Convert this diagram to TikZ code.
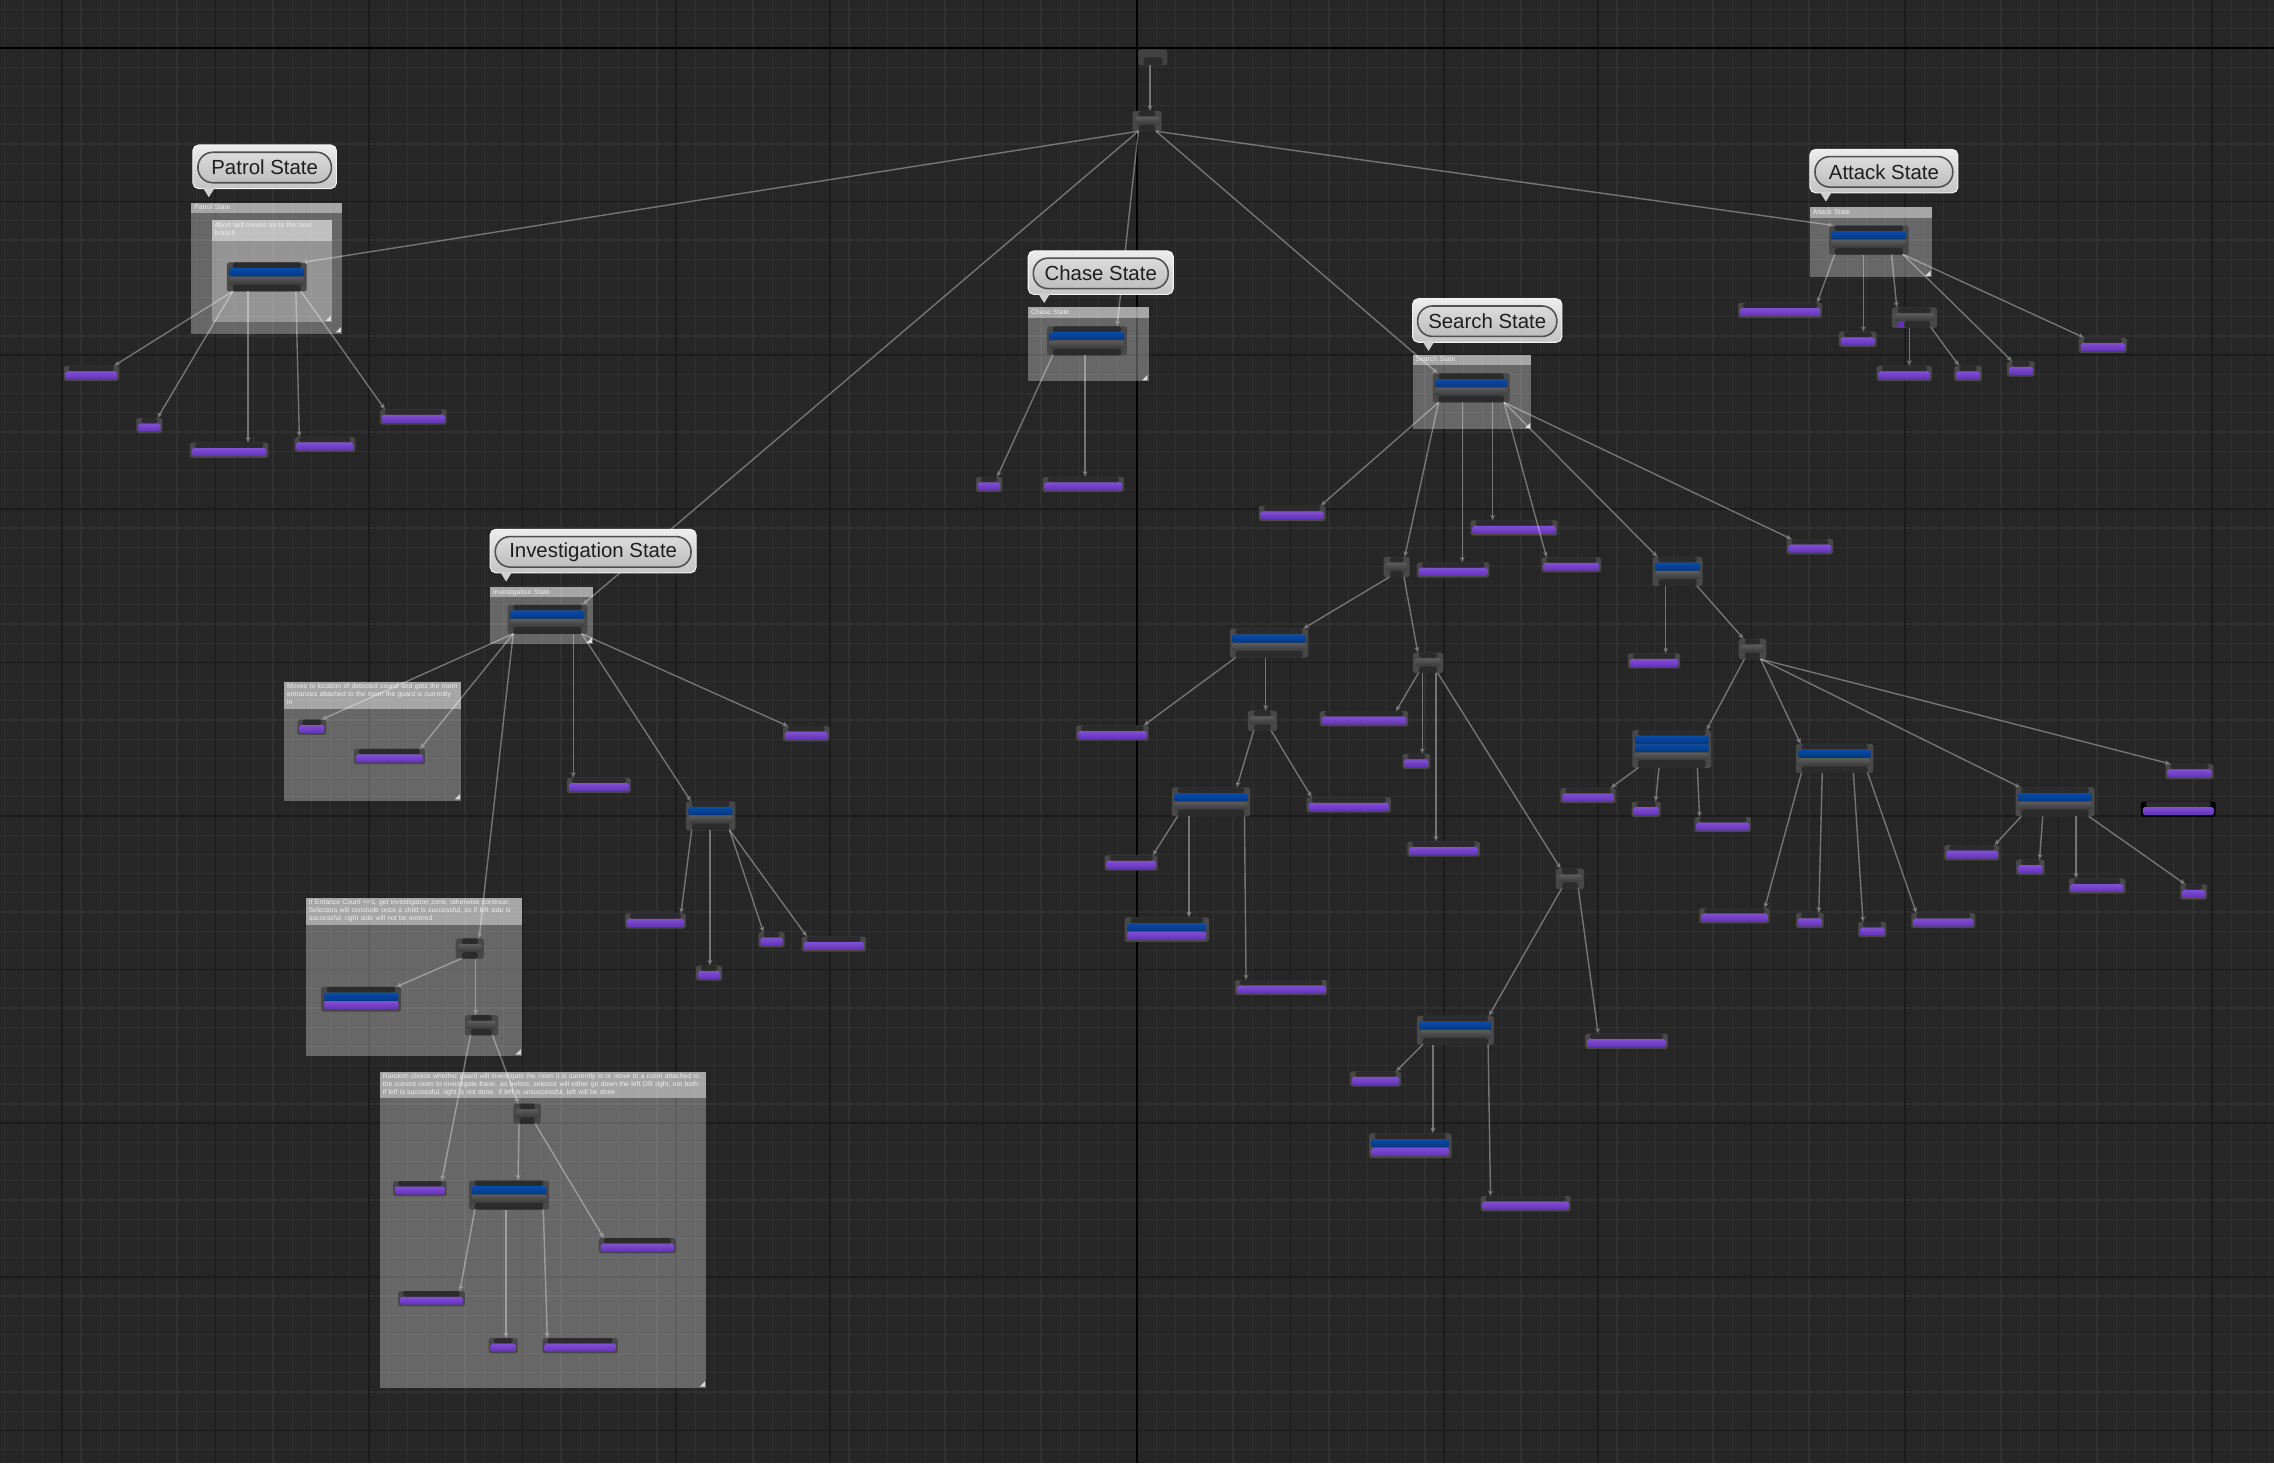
\documentclass[tikz,border=0pt]{standalone}
\usepackage{fontspec}
\setmainfont{Liberation Sans}
\usetikzlibrary{calc,arrows.meta}

\definecolor{gridbg}{HTML}{262626}
\definecolor{gridminor}{HTML}{303030}
\definecolor{gridmajor}{HTML}{1B1B1B}
\definecolor{btframe}{HTML}{484848}
\definecolor{btroot}{HTML}{424242}
\definecolor{btpin}{HTML}{2B2B2B}
\definecolor{btpurple}{HTML}{6430B8}
\definecolor{btpurplehi}{HTML}{8050D4}
\definecolor{btblue}{HTML}{01367F}
\definecolor{btbluehi}{HTML}{0A4CA8}
\definecolor{btgrayhi}{HTML}{5C5C5C}
\definecolor{btgraylo}{HTML}{393939}
\definecolor{bubtop}{HTML}{EDEDED}
\definecolor{bubbot}{HTML}{C4C4C4}
\definecolor{pilltop}{HTML}{DCDCDC}
\definecolor{pillbot}{HTML}{BEBEBE}
\definecolor{pillline}{HTML}{505050}
\definecolor{labeltext}{HTML}{1E1E1E}
\definecolor{cmtfont}{HTML}{EEEEEE}
\definecolor{cmtgrip}{HTML}{DADADA}

\newcommand{\pxl}{0.014503cm}
% one coloured band inside a tree node, inset #1, from #2 to #3 below the top
\newcommand{\btbar}[4]{\fill[#4] ($(path picture bounding box.north west)+(#1,#2)$) rectangle ($(path picture bounding box.north east)+(-#1,#3)$);}
\newcommand{\commentbox}[7]{%
  \fill[cmtbody] (#2,#3) rectangle (#4,#5);
  \fill[cmthead] (#2,#3) rectangle (#4,#3+#6);
  \fill[cmtgrip] (#4-0.8,#5-0.8) -- (#4-0.8,#5-4.5) -- (#4-4.5,#5-0.8) -- cycle;
  \pgfmathsetlengthmacro{\cmtwidth}{(#4-#2-4)*\pxl}%
  \node[cmttext, text width=\cmtwidth] (#1) at (#2+1.5,#3+0.7) {#7};
}
\newcommand{\statelabel}[5]{%
  \node[bubble, minimum width={(#4-#2)*\pxl}] (#1bub) at ({(#2+#4)/2},#3+15) {};
  \fill[bubbot!80!white] (#2+7,#3+29.6) -- (#2+15,#3+29.6) -- (#2+11,#3+36) -- cycle;
  \node[pill, minimum width={(#4-#2-7)*\pxl}] (#1) at ({(#2+#4)/2},#3+15.5) {#5};
}

\begin{document}
\begin{tikzpicture}[x=0.014503cm, y=-0.014503cm,
  bt/.style={rectangle, inner sep=0pt, outer sep=0pt, fill=btframe, rounded corners=0.5pt},
  task/.style={bt, minimum width=#1*\pxl, minimum height=10.5*\pxl, path picture={
    \btbar{3.5}{0}{3.8}{btpin}
    \btbar{1.3}{3.8}{9.3}{top color=btpurplehi, bottom color=btpurple}}},
  sel/.style={bt, minimum width=#1*\pxl, minimum height=14*\pxl, path picture={
    \btbar{4.3}{0}{4}{btpin}
    \btbar{1.5}{4}{9.5}{top color=btgrayhi, bottom color=btgraylo}
    \btbar{4.3}{9.5}{14}{btpin}}},
  seldeco/.style={bt, minimum width=#1*\pxl, minimum height=14*\pxl, path picture={
    \btbar{4.3}{0}{4}{btpin}
    \btbar{1.5}{4}{9.5}{top color=btgrayhi, bottom color=btgraylo}
    \fill[btpurple] ($(path picture bounding box.north west)+(4,9.5)$) rectangle ($(path picture bounding box.north west)+(8.6,14)$);
    \fill[btpin] ($(path picture bounding box.north west)+(8.6,9.5)$) rectangle ($(path picture bounding box.north east)+(-4.6,14)$);}},
  comp/.style={bt, minimum width=#1*\pxl, minimum height=20*\pxl, path picture={
    \btbar{4}{0}{3.9}{btpin}
    \btbar{1.8}{3.9}{9.7}{top color=btbluehi, bottom color=btblue}
    \btbar{1.8}{9.7}{15.4}{top color=btgrayhi, bottom color=btgraylo}
    \btbar{4}{15.4}{20}{btpin}}},
  comptwo/.style={bt, minimum width=#1*\pxl, minimum height=26*\pxl, path picture={
    \btbar{4}{0}{3.9}{btpin}
    \btbar{1.8}{3.9}{9.6}{top color=btbluehi, bottom color=btblue}
    \btbar{1.8}{9.8}{15.3}{top color=btbluehi, bottom color=btblue}
    \btbar{1.8}{15.5}{20.6}{top color=btgrayhi, bottom color=btgraylo}
    \btbar{4}{20.6}{26}{btpin}}},
  compdeco/.style={bt, minimum width=#1*\pxl, minimum height=17*\pxl, path picture={
    \btbar{4}{0}{4}{btpin}
    \btbar{1.8}{4}{9.8}{top color=btbluehi, bottom color=btblue}
    \btbar{1.8}{9.8}{15.5}{top color=btpurplehi, bottom color=btpurple}}},
  rootnode/.style={bt, fill=btroot, minimum width=#1*\pxl, minimum height=11*\pxl, path picture={
    \btbar{3.5}{5.5}{11}{btpin}}},
  % parent bottom -> child top, both ends at the point nearest the halfway point
  link/.style={draw=white, opacity=0.36, line width=0.4pt, -{Stealth[length=1.6pt,width=1.4pt]},
    to path={let \p1=(\tikztostart.south west), \p2=(\tikztostart.south east),
      \p3=(\tikztotarget.north west), \p4=(\tikztotarget.north east),
      \p5=(\tikztostart.center), \p6=(\tikztotarget.center),
      \n0={(\x5+\x6)/2},
      \n1={max(\x1+1.6pt,min(\x2-1.6pt,\n0))}, \n2={max(\x3+1.4pt,min(\x4-1.4pt,\n0))}
      in (\n1,\y1) -- (\n2,\y3) \tikztonodes}},
  cmtbody/.style={fill=white, fill opacity=0.3},
  cmthead/.style={fill=white, fill opacity=0.42},
  cmttext/.style={anchor=north west, inner sep=0pt, align=left, text=cmtfont, font=\fontsize{1.95}{2.3}\selectfont},
  bubble/.style={rectangle, rounded corners=1.6pt, minimum height=30*\pxl, inner sep=0pt, top color=bubtop, bottom color=bubbot, draw=white!90!gray, line width=0.3pt},
  pill/.style={rectangle, rounded corners=4.2pt, minimum height=21*\pxl, inner sep=0pt, top color=pilltop, bottom color=pillbot, draw=pillline, line width=0.45pt, text=labeltext, font=\fontsize{5.8}{6.5}\selectfont}]

  \useasboundingbox (0,0) rectangle (1568,1009);
  \fill[gridbg] (0,0) rectangle (1568,1009);
  \foreach \i in {-59,...,59} \draw[gridminor, line width=0.3pt] ({784+13.239*\i},0) -- ({784+13.239*\i},1009);
  \foreach \j in {-2,...,73} \draw[gridminor, line width=0.3pt] (0,{33.1+13.239*\j}) -- (1568,{33.1+13.239*\j});
  \foreach \i in {-7,...,7} \draw[gridmajor, line width=0.45pt] ({784+105.91*\i},0) -- ({784+105.91*\i},1009);
  \foreach \j in {0,...,9} \draw[gridmajor, line width=0.45pt] (0,{33.1+105.91*\j}) -- (1568,{33.1+105.91*\j});
  \draw[black, line width=0.6pt] (784,0) -- (784,1009) (0,33.1) -- (1568,33.1);

  % comments
  \commentbox{patrolcmt}{132}{140}{236}{230}{7}{Patrol State}
  \commentbox{patrolnote}{146}{152}{229}{222}{14}{Abort self moves on to the next branch}
  \commentbox{chasecmt}{709}{212}{792}{263}{7}{Chase State}
  \commentbox{invcmt}{338}{405}{409}{444}{6.5}{Investigation State}
  \commentbox{movenote}{196}{470}{318}{552}{19}{Moves to location of detected sound and gets the room entrances attached to the room the guard is currently in}
  \commentbox{ifnote}{211}{619}{360}{728}{19}{If Entance Count <=1, get investigation zone, otherwise continue. Selectors will conclude once a child is successful, so if left side is successful, right side will not be entered}
  \commentbox{randnote}{262}{739}{487}{957}{18}{Random choice whether guard will investigate the room it is currently in or move to a room attached to the current room to investigate there. as before, selector will either go down the left OR right, not both. if left is successful, right is not done. if left is unsuccessful, left will be done}
  \commentbox{searchcmt}{974}{245}{1056}{296}{7}{Search State}
  \commentbox{atkcmt}{1248}{143}{1332}{191}{7}{Attack State}

  % root
  \node[rootnode=20] (root) at (795,39.5) {};
  \node[sel=20] (rootsel) at (791,83.5) {};

  % patrol
  \node[comp=55] (patrolc) at (184,191) {};
  \node[task=38] (pt1) at (63,257.5) {};
  \node[task=18] (pt2) at (103,293.5) {};
  \node[task=54] (pt3) at (158,310.5) {};
  \node[task=42] (pt4) at (224,306.5) {};
  \node[task=46] (pt5) at (285,287.5) {};

  % chase
  \node[comp=55] (chasec) at (749.5,235) {};
  \node[task=18] (ct1) at (682,334) {};
  \node[task=56] (ct2) at (747,334) {};

  % investigation
  \node[comp=55] (invc) at (377.5,427) {};
  \node[task=20] (it1) at (215,501.5) {};
  \node[task=49] (it2) at (268.5,521.7) {};
  \node[task=44] (it3) at (413,541.5) {};
  \node[task=32] (it4) at (556,506) {};
  \node[comp=34] (invblue) at (490,562.5) {};
  \node[task=42] (it5) at (452,635) {};
  \node[task=18] (it6) at (489,671) {};
  \node[task=18] (it7) at (532,648) {};
  \node[task=44] (it8) at (575,651) {};
  \node[sel=19.5] (invsel) at (324,654) {};
  \node[compdeco=55] (invdeco) at (249,689) {};
  \node[sel=23] (invsel2) at (332,707) {};
  \node[sel=19] (rndsel) at (363.5,768) {};
  \node[task=37] (rt1) at (289.5,819.6) {};
  \node[comp=55] (rndc) at (351,824) {};
  \node[task=53] (rt2) at (439.5,859) {};
  \node[task=46] (rt3) at (297.5,895.6) {};
  \node[task=20] (rt4) at (347,928) {};
  \node[task=52] (rt5) at (400,928) {};

  % search
  \node[comp=53] (searchc) at (1014.5,267.5) {};
  \node[task=46] (st1) at (891,354) {};
  \node[sel=18] (ssel) at (963,391) {};
  \node[task=50] (st2) at (1002,393) {};
  \node[task=60] (st3) at (1044,364) {};
  \node[task=41] (st4) at (1083.5,389.5) {};
  \node[comp=34.5] (sblue) at (1156.7,394) {};
  \node[task=32] (st5) at (1248,377) {};
  \node[comp=54] (sc1) at (875,443.5) {};
  \node[sel=21] (ssel2) at (984.7,457) {};
  \node[task=50] (st6) at (767,505.5) {};
  \node[sel=20] (ssel3) at (870.5,497) {};
  \node[comp=54] (sc2) at (835,553) {};
  \node[task=58] (st7) at (930,555) {};
  \node[task=36.5] (st8) at (780,595) {};
  \node[compdeco=58] (sdeco1) at (804.5,641) {};
  \node[task=63.5] (st9) at (883.4,681) {};
  \node[task=61] (st10) at (940.5,495.6) {};
  \node[task=19] (st11) at (976.6,525) {};
  \node[task=50] (st12) at (995.4,585.5) {};
  \node[sel=19.5] (ssel4) at (1082.5,606) {};
  \node[comp=53] (sc3) at (1003.5,710.5) {};
  \node[task=57] (st13) at (1121.5,718) {};
  \node[task=35] (st14) at (948.5,744) {};
  \node[compdeco=57] (sdeco2) at (972.5,790) {};
  \node[task=62] (st15) at (1052,830) {};
  \node[task=36] (st16) at (1140.5,455.7) {};
  \node[sel=19] (ssel5) at (1208.4,447.5) {};
  \node[comptwo=54.5] (sc4) at (1152.8,516.5) {};
  \node[comp=53.5] (sc5) at (1265,523) {};
  \node[comp=54.5] (sc6) at (1417,553) {};
  \node[task=33] (st17) at (1509.7,532) {};
  \node[task=51.5, fill=black] (st29) at (1502,558) {};
  \node[task=38] (st18) at (1095,548.6) {};
  \node[task=20] (st19) at (1135,558) {};
  \node[task=39] (st20) at (1188,568.6) {};
  \node[task=48.5] (st21) at (1196,631.4) {};
  \node[task=19] (st22) at (1248,634.7) {};
  \node[task=19.5] (st23) at (1291,641) {};
  \node[task=44] (st24) at (1340,634.8) {};
  \node[task=38] (st25) at (1359.7,588) {};
  \node[task=19.5] (st26) at (1400,598) {};
  \node[task=39] (st27) at (1446,611) {};
  \node[task=18.5] (st28) at (1512.7,615) {};

  % attack
  \node[comp=55] (atkc) at (1288.6,165.5) {};
  \node[task=58] (at1) at (1227.4,214) {};
  \node[task=26] (at2) at (1281,234) {};
  \node[seldeco=31] (atksel) at (1320,219) {};
  \node[task=19] (at3) at (1393.5,254.4) {};
  \node[task=33] (at4) at (1450,238) {};
  \node[task=38] (at5) at (1313,257.5) {};
  \node[task=19] (at6) at (1357,257.5) {};

  % links
  \path[link] (root) edge (rootsel);
  \path[link] (rootsel) edge (patrolc) edge (invc) edge (chasec) edge (searchc) edge (atkc);
  \path[link] (patrolc) edge (pt1) edge (pt2) edge (pt3) edge (pt4) edge (pt5);
  \path[link] (chasec) edge (ct1) edge (ct2);
  \path[link] (invc) edge (it1) edge (it2) edge (invsel) edge (it3) edge (invblue) edge (it4);
  \path[link] (invblue) edge (it5) edge (it6) edge (it7) edge (it8);
  \path[link] (invsel) edge (invdeco) edge (invsel2);
  \path[link] (invsel2) edge (rt1) edge (rndsel);
  \path[link] (rndsel) edge (rndc) edge (rt2);
  \path[link] (rndc) edge (rt3) edge (rt4) edge (rt5);
  \path[link] (searchc) edge (st1) edge (ssel) edge (st2) edge (st3) edge (st4) edge (sblue) edge (st5);
  \path[link] (ssel) edge (sc1) edge (ssel2);
  \path[link] (sc1) edge (st6) edge (ssel3);
  \path[link] (ssel3) edge (sc2) edge (st7);
  \path[link] (sc2) edge (st8) edge (sdeco1) edge (st9);
  \path[link] (ssel2) edge (st10) edge (st11) edge (st12) edge (ssel4);
  \path[link] (ssel4) edge (sc3) edge (st13);
  \path[link] (sc3) edge (st14) edge (sdeco2) edge (st15);
  \path[link] (sblue) edge (st16) edge (ssel5);
  \path[link] (ssel5) edge (sc4) edge (sc5) edge (sc6) edge (st17);
  \path[link] (sc4) edge (st18) edge (st19) edge (st20);
  \path[link] (sc5) edge (st21) edge (st22) edge (st23) edge (st24);
  \path[link] (sc6) edge (st25) edge (st26) edge (st27) edge (st28);
  \path[link] (atkc) edge (at1) edge (at2) edge (atksel) edge (at3) edge (at4);
  \path[link] (atksel) edge (at5) edge (at6);

  % state labels
  \statelabel{patrollbl}{133}{100}{232}{Patrol State}
  \statelabel{chaselbl}{709}{173}{809}{Chase State}
  \statelabel{invlbl}{338}{365}{480}{Investigation State}
  \statelabel{searchlbl}{974}{206}{1077}{Search State}
  \statelabel{atklbl}{1248}{103}{1350}{Attack State}
\end{tikzpicture}
\end{document}
